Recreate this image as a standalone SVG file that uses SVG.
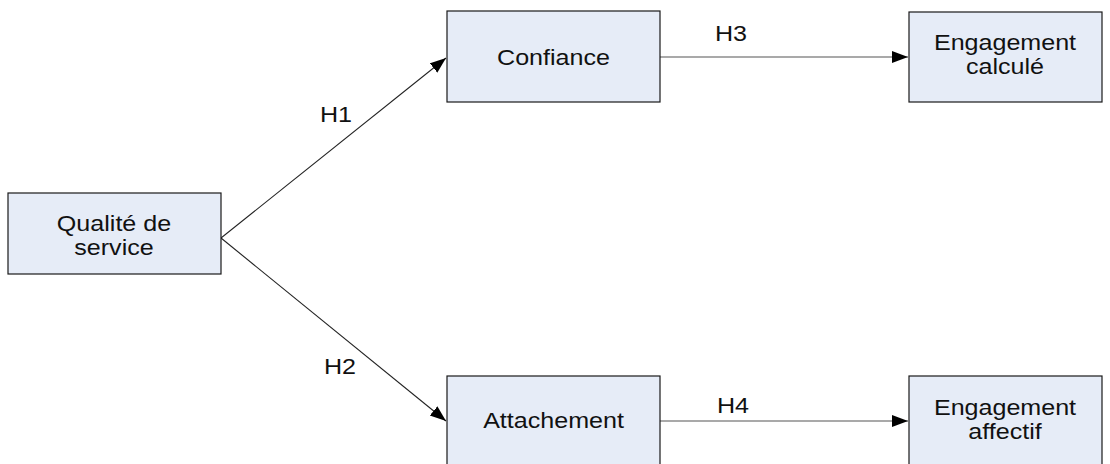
<svg xmlns="http://www.w3.org/2000/svg" width="1110" height="464" viewBox="0 0 1110 464">
<defs>
<marker id="arr" markerUnits="userSpaceOnUse" markerWidth="18" markerHeight="14" refX="16" refY="6" orient="auto">
<path d="M0,0 L16,6 L0,12 z" fill="#000"/>
</marker>
<style>
.box{fill:#e6ecf7;stroke:#1a1a1a;stroke-width:1.2}
.t{font-family:"Liberation Sans",Arial,sans-serif;font-size:22px;fill:#111;text-anchor:middle}
.c{fill:none;stroke:#222;stroke-width:1.1}
.h{stroke:#555}
</style>
</defs>
<rect width="1110" height="464" fill="#fff"/>
<g id="connectors">
<line class="c" x1="221" y1="238" x2="446" y2="58" marker-end="url(#arr)"/>
<line class="c" x1="221" y1="238" x2="446" y2="421" marker-end="url(#arr)"/>
<line class="c h" x1="660" y1="57" x2="908" y2="57" marker-end="url(#arr)"/>
<line class="c h" x1="660" y1="421" x2="908" y2="421" marker-end="url(#arr)"/>
<text class="t" transform="translate(336,122) scale(1.14,1)">H1</text>
<text class="t" transform="translate(340,374) scale(1.14,1)">H2</text>
<text class="t" transform="translate(731,41) scale(1.14,1)">H3</text>
<text class="t" transform="translate(733,413) scale(1.14,1)">H4</text>
</g>
<g id="qualite">
<rect class="box" x="8" y="193" width="213" height="81"/>
<text class="t" transform="translate(114,231) scale(1.14,1)"><tspan x="0" y="0">Qualité de</tspan><tspan x="0" y="24">service</tspan></text>
</g>
<g id="confiance">
<rect class="box" x="447" y="11" width="213" height="91"/>
<text class="t" transform="translate(553.5,65) scale(1.14,1)">Confiance</text>
</g>
<g id="engagement-calcule">
<rect class="box" x="909" y="12" width="193" height="90"/>
<text class="t" transform="translate(1005,50) scale(1.14,1)"><tspan x="0" y="0">Engagement</tspan><tspan x="0" y="24">calculé</tspan></text>
</g>
<g id="attachement">
<rect class="box" x="447" y="376" width="213" height="92"/>
<text class="t" transform="translate(553.5,428) scale(1.14,1)">Attachement</text>
</g>
<g id="engagement-affectif">
<rect class="box" x="909" y="376" width="193" height="92"/>
<text class="t" transform="translate(1005,415) scale(1.14,1)"><tspan x="0" y="0">Engagement</tspan><tspan x="0" y="24">affectif</tspan></text>
</g>
</svg>
